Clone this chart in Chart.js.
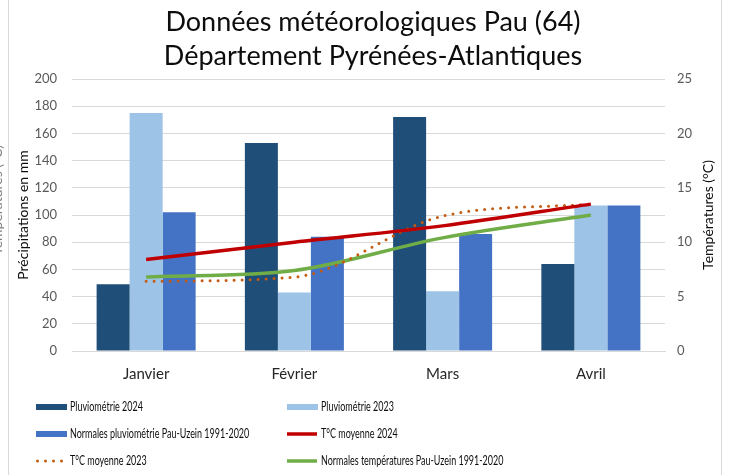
<!DOCTYPE html>
<html>
<head>
<meta charset="utf-8">
<script src="https://cdn.jsdelivr.net/npm/chart.js@4.4.1/dist/chart.umd.min.js"></script>
<style>
  html, body { margin: 0; padding: 0; background: #fff; }
  #wrap { width: 729px; height: 475px; position: relative; }
</style>
</head>
<body>
<div id="wrap"><canvas id="c" width="729" height="475"></canvas></div>
<script>
// ---- Data ----
const titleLines = ['Données météorologiques Pau (64)', 'Département Pyrénées-Atlantiques'];
const months = ['Janvier', 'Février', 'Mars', 'Avril'];
const pluvio2024 = [49, 153, 172, 64];
const pluvio2023 = [175, 43, 44, 107];
const normalesPluvio = [102, 84, 86, 107];
const temp2024 = [8.4, 10.0, 11.5, 13.5];
const temp2023 = [6.4, 6.8, 12.4, 13.5];
const normalesTemp = [6.8, 7.4, 10.4, 12.5];
const leftTitle = 'Précipitations en mm';
const rightTitle = 'Températures (°C)';

const FONT = 'Lato, "Open Sans", sans-serif';

const overlay = {
  id: 'overlay',
  afterDraw(chart) {
    const ctx = chart.ctx;
    const area = chart.chartArea;
    ctx.save();
    // frame
    ctx.strokeStyle = '#d9d9d9';
    ctx.lineWidth = 1;
    ctx.beginPath();
    ctx.moveTo(8.5, 0); ctx.lineTo(8.5, 475);
    ctx.moveTo(721.5, 0); ctx.lineTo(721.5, 475);
    ctx.stroke();
    // title
    ctx.fillStyle = '#0d0d0d';
    ctx.font = '27px ' + FONT;
    ctx.textAlign = 'center';
    ctx.textBaseline = 'middle';
    ctx.fillText(titleLines[0], 373, 22);
    ctx.fillText(titleLines[1], 373, 56);
    // axis titles
    const midY = (area.top + area.bottom) / 2;
    ctx.font = '14px ' + FONT;
    ctx.fillStyle = '#0d0d0d';
    ctx.save(); ctx.translate(23, midY); ctx.rotate(-Math.PI / 2); ctx.fillText(leftTitle, 0, 0); ctx.restore();
    ctx.save(); ctx.translate(708, midY); ctx.rotate(-Math.PI / 2); ctx.fillText(rightTitle, 0, 0); ctx.restore();
    ctx.fillStyle = '#7f7f7f';
    ctx.save(); ctx.translate(-3, 200); ctx.rotate(-Math.PI / 2); ctx.fillText(rightTitle, 0, 0); ctx.restore();
    // legend
    const rows = [407, 434, 461];
    const cols = [36, 287];
    ctx.textAlign = 'left';
    ctx.font = '13px ' + FONT;
    chart.data.datasets.forEach((ds, i) => {
      const x = cols[i % 2];
      const y = rows[Math.floor(i / 2)];
      if (ds.type === 'line') {
        ctx.strokeStyle = ds.borderColor;
        ctx.lineWidth = ds.borderWidth;
        ctx.lineCap = ds.borderCapStyle || 'butt';
        ctx.setLineDash(ds.borderDash || []);
        ctx.beginPath();
        ctx.moveTo(x + (ds.borderDash ? 1.5 : 0), y);
        ctx.lineTo(x + 30, y);
        ctx.stroke();
        ctx.setLineDash([]);
        ctx.lineCap = 'butt';
      } else {
        ctx.fillStyle = ds.backgroundColor;
        ctx.fillRect(x, y - 3, 31, 6);
      }
      ctx.fillStyle = '#0d0d0d';
      ctx.save();
      ctx.translate(x + 34, y);
      ctx.scale(0.69, 1);
      ctx.fillText(ds.label, 0, 0);
      ctx.restore();
    });
    ctx.restore();
  }
};

new Chart(document.getElementById('c'), {
  data: {
    labels: months,
    datasets: [
      { type: 'bar', label: 'Pluviométrie 2024', data: pluvio2024, backgroundColor: '#1f4e79', yAxisID: 'y', order: 5 },
      { type: 'bar', label: 'Pluviométrie 2023', data: pluvio2023, backgroundColor: '#9dc3e6', yAxisID: 'y', order: 5 },
      { type: 'bar', label: 'Normales pluviométrie Pau-Uzein 1991-2020', data: normalesPluvio, backgroundColor: '#4472c4', yAxisID: 'y', order: 5 },
      { type: 'line', label: 'T°C moyenne 2024', data: temp2024, borderColor: '#c00000', borderWidth: 3.5, yAxisID: 'y1', pointRadius: 0, cubicInterpolationMode: 'monotone', order: 0 },
      { type: 'line', label: 'T°C moyenne 2023', data: temp2023, borderColor: '#c55a11', borderWidth: 3, borderDash: [0, 8], borderCapStyle: 'round', yAxisID: 'y1', pointRadius: 0, cubicInterpolationMode: 'monotone', order: 1 },
      { type: 'line', label: 'Normales températures Pau-Uzein 1991-2020', data: normalesTemp, borderColor: '#70ad47', borderWidth: 3.5, yAxisID: 'y1', pointRadius: 0, cubicInterpolationMode: 'monotone', order: 2 }
    ]
  },
  options: {
    responsive: false,
    animation: false,
    devicePixelRatio: 1,
    layout: { padding: { top: 79, left: 0, right: 0, bottom: 0 } },
    datasets: { bar: { barPercentage: 1, categoryPercentage: 0.668 } },
    plugins: { legend: { display: false }, tooltip: { enabled: false }, title: { display: false } },
    scales: {
      x: {
        grid: { display: false, drawTicks: false },
        border: { display: true, color: '#d9d9d9' },
        ticks: { font: { family: FONT, size: 15 }, color: '#262626', padding: 14 },
        afterFit(s) { s.height = 124; }
      },
      y: {
        position: 'left', min: 0, max: 200,
        ticks: { stepSize: 20, font: { family: FONT, size: 13 }, color: '#595959', padding: 15 },
        grid: { color: '#d9d9d9', drawTicks: false },
        border: { display: false },
        afterFit(s) { s.width = 72; }
      },
      y1: {
        position: 'right', min: 0, max: 25,
        ticks: { stepSize: 5, font: { family: FONT, size: 13 }, color: '#595959', padding: 12 },
        grid: { display: false, drawTicks: false },
        border: { display: false },
        afterFit(s) { s.width = 64; }
      }
    }
  },
  plugins: [overlay]
});
</script>
</body>
</html>
